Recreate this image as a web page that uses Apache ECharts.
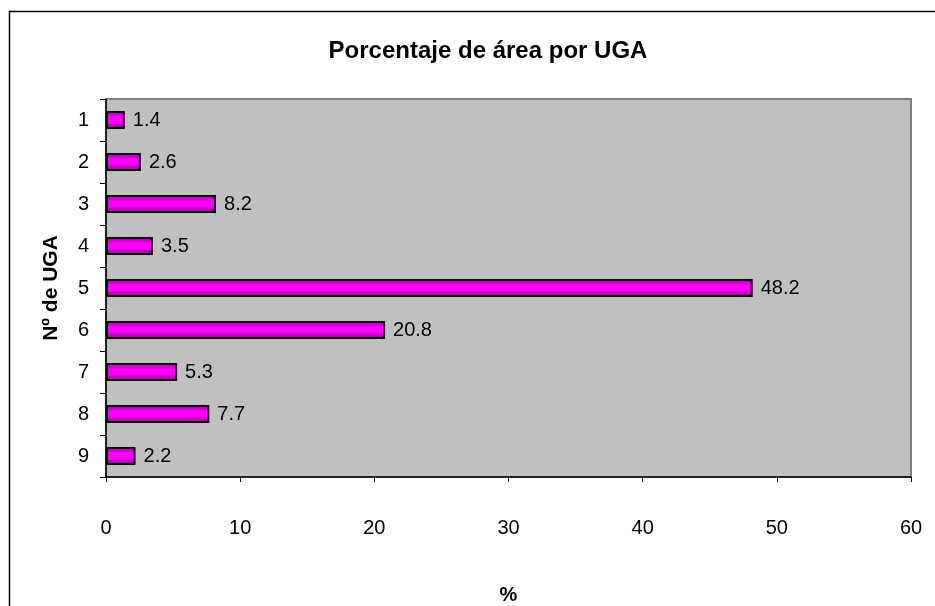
<!DOCTYPE html>
<html lang="es">
<head>
<meta charset="utf-8">
<title>Porcentaje de área por UGA</title>
<script src="https://cdn.jsdelivr.net/npm/echarts@6/dist/echarts.min.js"></script>
<style>
  html, body { margin: 0; padding: 0; background: #fff; }
  #main { width: 935px; height: 606px; }
</style>
</head>
<body>
<div id="main"></div>
<script>
// datos
var categorias = ['1', '2', '3', '4', '5', '6', '7', '8', '9'];
var valores = [1.4, 2.6, 8.2, 3.5, 48.2, 20.8, 5.3, 7.7, 2.2];
var ticksX = [0, 10, 20, 30, 40, 50, 60];

var chart = echarts.init(document.getElementById('main'));
var fuente = 'Liberation Sans, Arial, sans-serif';

chart.setOption({
  animation: false,
  backgroundColor: '#ffffff',
  title: {
    text: 'Porcentaje de área por UGA',
    left: 483,
    top: 34,
    textAlign: 'center',
    textStyle: { fontFamily: fuente, fontSize: 24, fontWeight: 'bold', color: '#000' }
  },
  // marco exterior del gráfico
  graphic: [{
    type: 'polyline',
    shape: { points: [[9.5, 606], [9.5, 11.5], [935, 11.5]] },
    style: { stroke: '#000', lineWidth: 1.5, fill: null },
    silent: true
  }],
  grid: {
    left: 106, top: 99, right: 24, bottom: 129,
    outerBoundsMode: 'none',
    containLabel: false,
    show: true,
    backgroundColor: '#C0C0C0',
    borderColor: '#808080',
    borderWidth: 2
  },
  xAxis: {
    type: 'value',
    min: ticksX[0],
    max: ticksX[ticksX.length - 1],
    interval: 10,
    name: '%',
    nameLocation: 'middle',
    nameGap: 108,
    nameTextStyle: { fontFamily: fuente, fontSize: 20, fontWeight: 'bold', color: '#000' },
    axisLine: { show: true, lineStyle: { color: '#000', width: 1.5 } },
    axisTick: { show: true, length: 5, lineStyle: { color: '#000' } },
    splitLine: { show: false },
    axisLabel: { margin: 41, fontFamily: fuente, fontSize: 20, color: '#000' }
  },
  yAxis: {
    type: 'category',
    data: categorias,
    inverse: true,
    name: 'Nº de UGA',
    nameLocation: 'middle',
    nameGap: 44,
    nameRotate: 90,
    nameTextStyle: { fontFamily: fuente, fontSize: 21, fontWeight: 'bold', color: '#000' },
    axisLine: { show: true, lineStyle: { color: '#000', width: 1.5 } },
    axisTick: { show: true, length: 6, inside: false, alignWithLabel: false, lineStyle: { color: '#000' } },
    axisLabel: { margin: 17, fontFamily: fuente, fontSize: 20, color: '#000' },
    splitLine: { show: false }
  },
  series: [{
    type: 'bar',
    data: valores,
    barWidth: 18,
    itemStyle: {
      borderColor: '#000',
      borderWidth: 2,
      color: new echarts.graphic.LinearGradient(0, 0, 0, 1, [
        { offset: 0, color: '#8a008a' },
        { offset: 0.35, color: '#ff00ff' },
        { offset: 0.6, color: '#ff00ff' },
        { offset: 1, color: '#800080' }
      ])
    },
    label: {
      show: true,
      position: 'right',
      distance: 8,
      fontFamily: fuente,
      fontSize: 20,
      color: '#000',
      formatter: function (p) { return p.value.toFixed(1); }
    }
  }]
});
</script>
</body>
</html>
